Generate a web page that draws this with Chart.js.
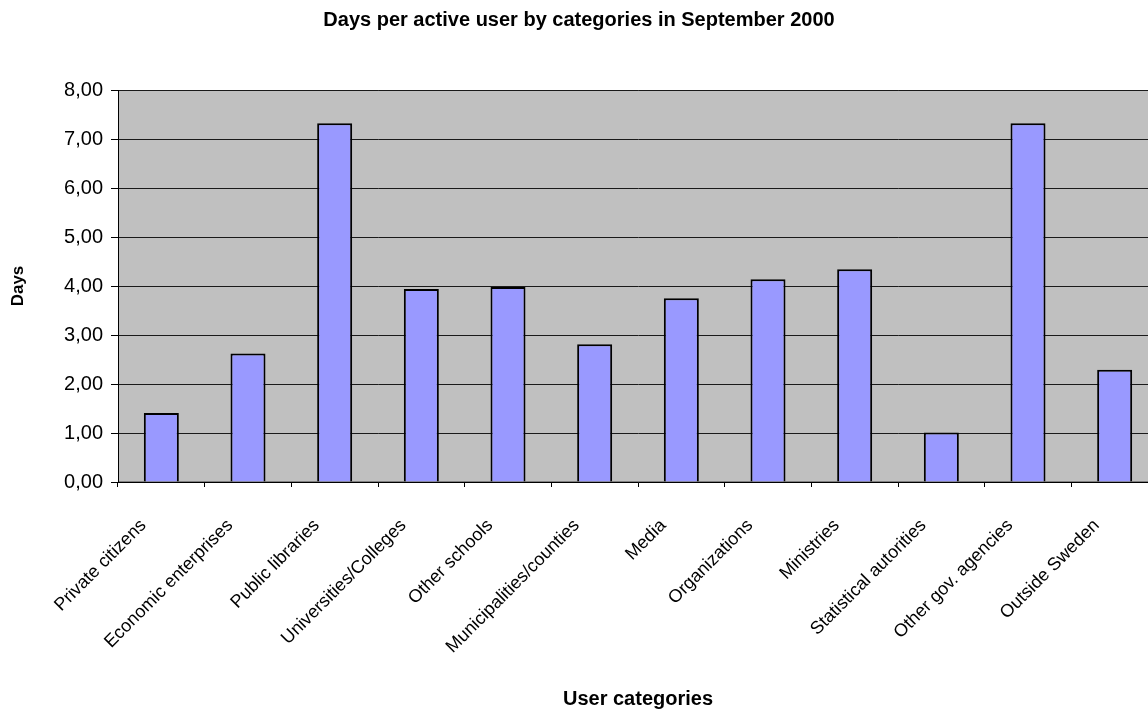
<!DOCTYPE html>
<html>
<head>
<meta charset="utf-8">
<title>Days per active user</title>
<script src="https://cdn.jsdelivr.net/npm/chart.js@4/dist/chart.umd.min.js"></script>
<style>
    body { margin: 0; background: #fff; overflow: hidden; }
    /* the original plot runs past the right edge of the picture, so the canvas is a bit wider and clipped */
    #chartDiv { width: 1148px; height: 711px; overflow: hidden; }
</style>
</head>
<body>
<div id="chartDiv"><canvas id="Chart" width="1158" height="711"></canvas></div>
<script>
console.log("chart_page");

// data
const categories = [
    "Private citizens", "Economic enterprises", "Public libraries", "Universities/Colleges",
    "Other schools", "Municipalities/counties", "Media", "Organizations",
    "Ministries", "Statistical autorities", "Other gov. agencies", "Outside Sweden"
];
const daysPerUser = [1.41, 2.62, 7.32, 3.94, 3.98, 2.81, 3.75, 4.14, 4.34, 1.01, 7.32, 2.29];
const yMin = 0;
const yMax = 8;
const yStep = 1;

const fontFamily = "'Liberation Sans', Arial, sans-serif";

// grey plot area with a thin border, like the old spreadsheet charts
const plotBackground = {
    id: "plotBackground",
    beforeDraw: function (chart) {
        const a = chart.chartArea;
        const ctx = chart.ctx;
        ctx.save();
        ctx.fillStyle = "#c0c0c0";
        ctx.fillRect(a.left, a.top, a.right - a.left, a.bottom - a.top);
        ctx.strokeStyle = "#808080";
        ctx.lineWidth = 1;
        ctx.strokeRect(a.left + 0.5, a.top + 0.5, a.right - a.left - 1, a.bottom - a.top - 1);
        ctx.restore();
    }
};

const ctx = document.getElementById("Chart");
const chart = new Chart(ctx, {
    type: "bar",
    data: {
        labels: categories,
        datasets: [{
            label: "Days",
            data: daysPerUser,
            backgroundColor: "#9999ff",
            borderColor: "#000000",
            borderWidth: 2,
            barPercentage: 0.404,
            categoryPercentage: 1.0,
        }],
    },
    options: {
        responsive: false,
        animation: false,
        layout: {
            padding: { left: 0, right: 0, top: 0, bottom: 0 },
        },
        plugins: {
            legend: { display: false },
            tooltip: { enabled: false },
            title: {
                display: true,
                text: "Days per active user by categories in September 2000",
                color: "#000",
                font: { family: fontFamily, size: 20, weight: "bold" },
                padding: { top: 8, bottom: 58 },
            },
        },
        scales: {
            x: {
                afterFit: function (scale) { scale.height = 229; },
                border: { color: "#000", width: 1 },
                grid: {
                    offset: true,
                    drawOnChartArea: false,
                    drawTicks: true,
                    tickLength: 5,
                    tickColor: "#000",
                },
                ticks: {
                    color: "#000",
                    font: { family: fontFamily, size: 18 },
                    minRotation: 45,
                    maxRotation: 45,
                    autoSkip: false,
                    padding: 28,
                    labelOffset: -18,
                },
                title: {
                    display: true,
                    text: "User categories",
                    color: "#000",
                    font: { family: fontFamily, size: 20, weight: "bold" },
                    padding: { top: 0, bottom: 0 },
                },
            },
            y: {
                min: yMin,
                max: yMax,
                afterFit: function (scale) { scale.width = 118; },
                border: { color: "#000", width: 1 },
                grid: {
                    color: "#1a1a1a",
                    lineWidth: 1,
                    tickLength: 7,
                    tickColor: "#000",
                },
                ticks: {
                    stepSize: yStep,
                    color: "#000",
                    font: { family: fontFamily, size: 20 },
                    padding: 8,
                    callback: function (value) {
                        return value.toFixed(2).replace(".", ",");
                    },
                },
                title: {
                    display: true,
                    text: "Days",
                    color: "#000",
                    font: { family: fontFamily, size: 17, weight: "bold" },
                    padding: { top: 8, bottom: 0 },
                },
            },
        },
    },
    plugins: [plotBackground],
});
</script>
</body>
</html>
